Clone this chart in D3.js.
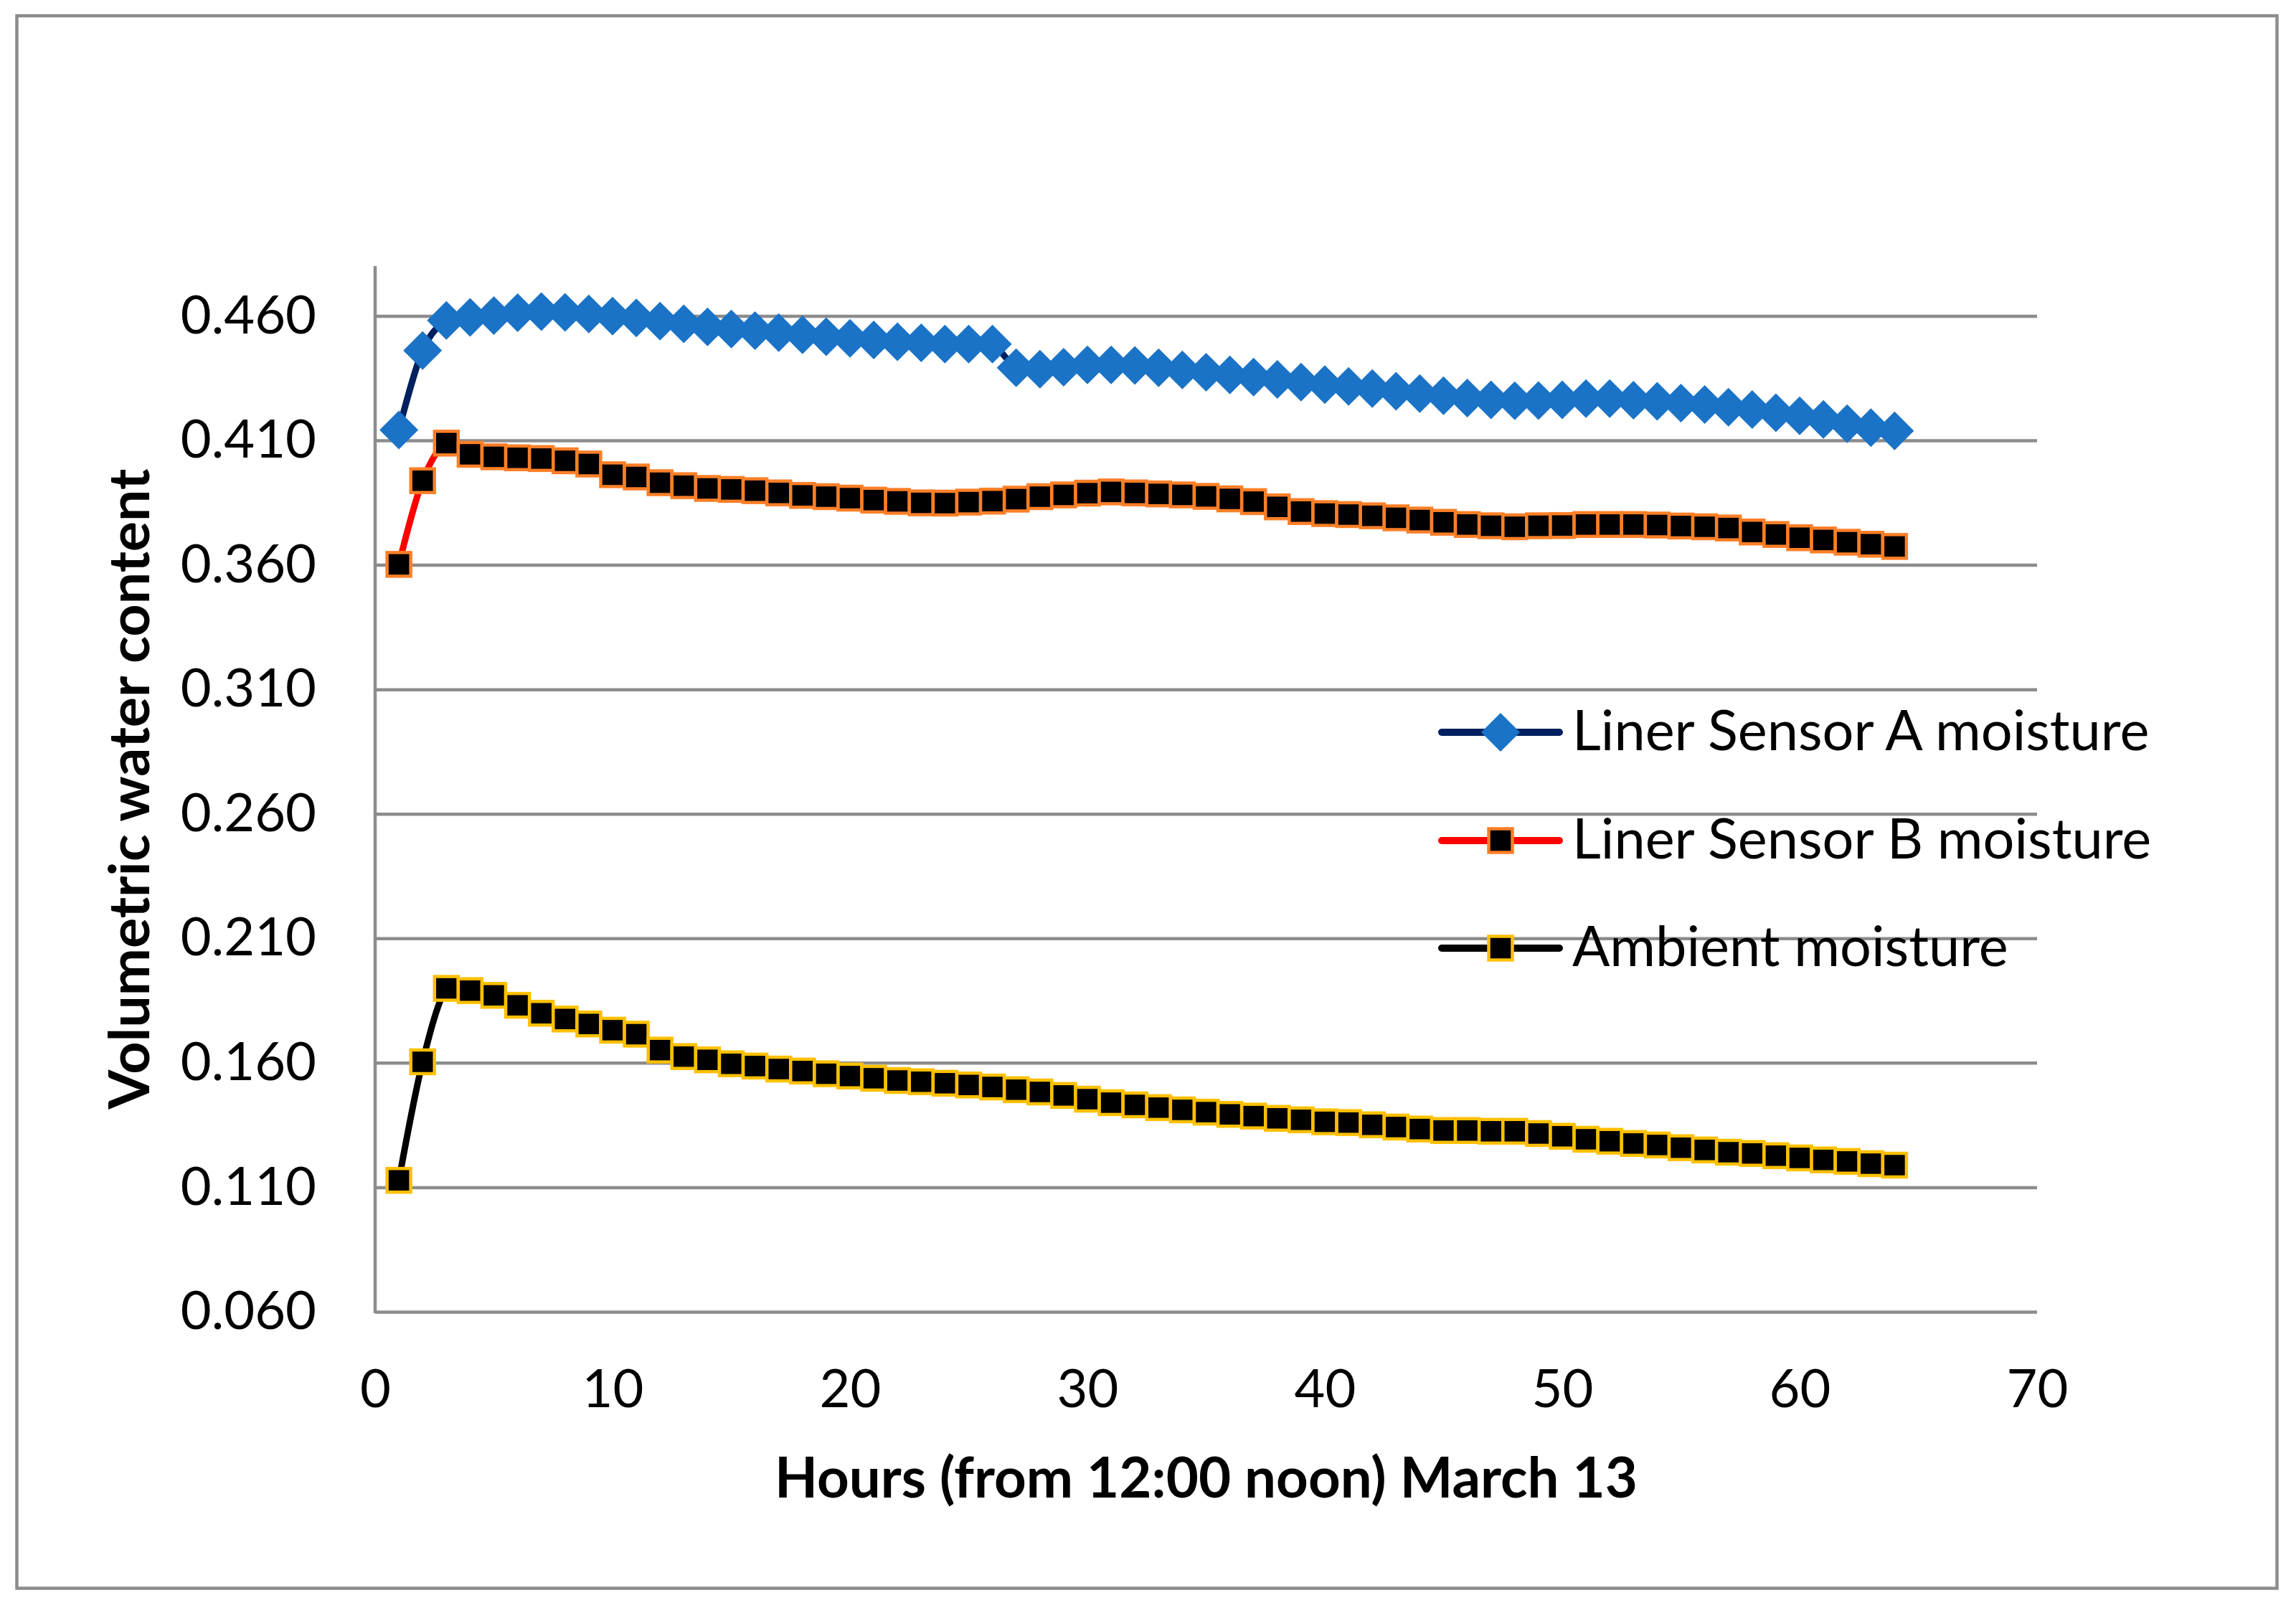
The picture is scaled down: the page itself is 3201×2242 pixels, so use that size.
<!DOCTYPE html>
<html lang="en">
<head>
  <meta charset="UTF-8">
  <title>Volumetric water content</title>
  <script src="https://cdn.jsdelivr.net/npm/d3@7.9.0/dist/d3.min.js"></script>
  <style>
    html, body {
      margin: 0;
      padding: 0;
      background: #fff;
    }
    svg text {
      font-family: Lato, "Open Sans", sans-serif;
      fill: #000;
    }
  </style>
</head>
<body>
  <svg id="chart" width="3201" height="2242"></svg>

  <script>
    // --- Data ---
    const hours = [1, 2, 3, 4, 5, 6, 7, 8, 9, 10, 11, 12, 13, 14, 15, 16,
      17, 18, 19, 20, 21, 22, 23, 24, 25, 26, 27, 28, 29, 30, 31, 32,
      33, 34, 35, 36, 37, 38, 39, 40, 41, 42, 43, 44, 45, 46, 47, 48,
      49, 50, 51, 52, 53, 54, 55, 56, 57, 58, 59, 60, 61, 62, 63, 64];

    const sensorA = [0.4142, 0.4461, 0.4582, 0.4594, 0.4601, 0.4613, 0.4617, 0.4614,
      0.4608, 0.4599, 0.4592, 0.4579, 0.4568, 0.4556, 0.4547, 0.4541,
      0.4533, 0.4524, 0.4516, 0.4510, 0.4503, 0.4496, 0.4492, 0.4487,
      0.4487, 0.4487, 0.4392, 0.4386, 0.4394, 0.4403, 0.4403, 0.4401,
      0.4392, 0.4383, 0.4374, 0.4363, 0.4354, 0.4345, 0.4334, 0.4324,
      0.4317, 0.4308, 0.4297, 0.4288, 0.4279, 0.4270, 0.4263, 0.4259,
      0.4260, 0.4263, 0.4268, 0.4268, 0.4261, 0.4257, 0.4250, 0.4244,
      0.4233, 0.4224, 0.4211, 0.4199, 0.4184, 0.4167, 0.4151, 0.4138];

    const sensorB = [0.3602, 0.3938, 0.4089, 0.4044, 0.4034, 0.4030, 0.4027, 0.4018,
      0.4005, 0.3962, 0.3953, 0.3930, 0.3918, 0.3907, 0.3903, 0.3898,
      0.3889, 0.3879, 0.3874, 0.3868, 0.3860, 0.3855, 0.3849, 0.3848,
      0.3852, 0.3856, 0.3864, 0.3874, 0.3881, 0.3888, 0.3893, 0.3889,
      0.3885, 0.3881, 0.3875, 0.3865, 0.3854, 0.3833, 0.3814, 0.3806,
      0.3802, 0.3797, 0.3789, 0.3780, 0.3771, 0.3762, 0.3757, 0.3753,
      0.3757, 0.3758, 0.3762, 0.3762, 0.3762, 0.3760, 0.3756, 0.3753,
      0.3748, 0.3732, 0.3722, 0.3709, 0.3700, 0.3691, 0.3683, 0.3674];

    const ambient = [0.1128, 0.1604, 0.1899, 0.1890, 0.1871, 0.1831, 0.1799, 0.1776,
      0.1756, 0.1731, 0.1715, 0.1651, 0.1625, 0.1612, 0.1596, 0.1587,
      0.1575, 0.1567, 0.1556, 0.1547, 0.1538, 0.1529, 0.1524, 0.1518,
      0.1511, 0.1503, 0.1492, 0.1483, 0.1469, 0.1454, 0.1440, 0.1431,
      0.1420, 0.1411, 0.1402, 0.1393, 0.1386, 0.1377, 0.1371, 0.1363,
      0.1360, 0.1351, 0.1342, 0.1334, 0.1328, 0.1328, 0.1325, 0.1325,
      0.1316, 0.1305, 0.1293, 0.1285, 0.1276, 0.1270, 0.1259, 0.1250,
      0.1241, 0.1236, 0.1227, 0.1218, 0.1210, 0.1204, 0.1195, 0.1189];

    const seriesNames = ["Liner Sensor A moisture", "Liner Sensor B moisture", "Ambient moisture"];
    const xTicks = [0, 10, 20, 30, 40, 50, 60, 70];
    const yTicks = [0.060, 0.110, 0.160, 0.210, 0.260, 0.310, 0.360, 0.410, 0.460];
    const xTitle = "Hours (from 12:00 noon) March 13";
    const yTitle = "Volumetric water content";

    // --- Layout ---
    const svg = d3.select("#chart");
    const plot = { left: 523, right: 2840, top: 371, bottom: 1829 };
    const gray = "#8c8c8c";

    const x = d3.scaleLinear().domain([0, 70]).range([plot.left, plot.right]);
    const y = d3.scaleLinear().domain([0.06, 0.48]).range([plot.bottom, plot.top]);

    const styles = [
      { line: "#002060", shape: "diamond", fill: "#1a73c6", stroke: "none" },
      { line: "#ff0000", shape: "square", fill: "#000", stroke: "#fd7f27" },
      { line: "#000000", shape: "square", fill: "#000", stroke: "#ffc000" }
    ];
    const allSeries = [sensorA, sensorB, ambient].map((vals, i) => ({
      name: seriesNames[i],
      style: styles[i],
      points: hours.map((h, j) => ({ h: h, v: vals[j] }))
    }));

    // outer chart frame
    svg.append("rect")
      .attr("x", 23.5).attr("y", 22)
      .attr("width", 3151).attr("height", 2192.5)
      .attr("fill", "#fff")
      .attr("stroke", gray)
      .attr("stroke-width", 4.5);

    // 1. gridlines + y axis labels
    const yAxis = d3.axisLeft(y)
      .tickValues(yTicks)
      .tickSize(-(plot.right - plot.left))
      .tickPadding(82)
      .tickFormat(d3.format(".3f"));

    const gy = svg.append("g")
      .attr("transform", `translate(${plot.left},0)`)
      .call(yAxis);
    gy.select(".domain").remove();
    gy.selectAll(".tick line").attr("stroke", gray).attr("stroke-width", 4.5);
    gy.selectAll(".tick text")
      .style("font-size", "74px")
      .attr("fill", "#000");

    // vertical axis line
    svg.append("line")
      .attr("x1", plot.left).attr("x2", plot.left)
      .attr("y1", plot.top).attr("y2", plot.bottom + 2)
      .attr("stroke", gray)
      .attr("stroke-width", 4.5);

    // 2. x axis labels
    const xAxis = d3.axisBottom(x)
      .tickValues(xTicks)
      .tickSize(0)
      .tickPadding(80)
      .tickFormat(d3.format("d"));
    const gx = svg.append("g")
      .attr("transform", `translate(0,${plot.bottom})`)
      .call(xAxis);
    gx.select(".domain").remove();
    gx.selectAll(".tick text")
      .style("font-size", "74px")
      .attr("fill", "#000");

    // 3. axis titles
    svg.append("text")
      .attr("x", (plot.left + plot.right) / 2)
      .attr("y", 2088)
      .attr("text-anchor", "middle")
      .style("font-size", "78px")
      .style("font-weight", "bold")
      .text(xTitle);

    svg.append("text")
      .attr("transform", `translate(208,${(plot.top + plot.bottom) / 2}) rotate(-90)`)
      .attr("text-anchor", "middle")
      .style("font-size", "79px")
      .style("font-weight", "bold")
      .text(yTitle);

    // --- markers ---
    const diamondPath = (cx, cy, r) =>
      `M${cx},${cy - r}L${cx + r},${cy}L${cx},${cy + r}L${cx - r},${cy}Z`;

    const drawMarker = (g, st, cx, cy) => {
      if (st.shape === "diamond") {
        g.append("path")
          .attr("d", diamondPath(cx, cy, 27))
          .attr("fill", st.fill);
      } else {
        g.append("rect")
          .attr("x", cx - 16.5).attr("y", cy - 16.5)
          .attr("width", 33).attr("height", 33)
          .attr("fill", st.fill)
          .attr("stroke", st.stroke)
          .attr("stroke-width", 4.5);
      }
    };

    // 4. series lines and markers (smoothed like the original)
    const line = d3.line()
      .x(d => x(d.h))
      .y(d => y(d.v))
      .curve(d3.curveCardinal.tension(0));

    allSeries.forEach(s => {
      const g = svg.append("g").attr("class", "series");
      g.append("path")
        .datum(s.points)
        .attr("d", line)
        .attr("fill", "none")
        .attr("stroke", s.style.line)
        .attr("stroke-width", 9)
        .attr("stroke-linejoin", "round")
        .attr("stroke-linecap", "round");
      s.points.forEach(p => drawMarker(g, s.style, x(p.h), y(p.v)));
    });

    // 5. legend
    const legendRows = [1021, 1172, 1322];
    const legend = svg.append("g").attr("class", "legend");
    allSeries.forEach((s, i) => {
      const ly = legendRows[i];
      legend.append("line")
        .attr("x1", 2010).attr("x2", 2174)
        .attr("y1", ly).attr("y2", ly)
        .attr("stroke", s.style.line)
        .attr("stroke-width", 10)
        .attr("stroke-linecap", "round");
      drawMarker(legend, s.style, 2092, ly);
      legend.append("text")
        .attr("x", 2192)
        .attr("y", ly + 25)
        .style("font-size", "77.5px")
        .text(s.name);
    });
  </script>
</body>
</html>
